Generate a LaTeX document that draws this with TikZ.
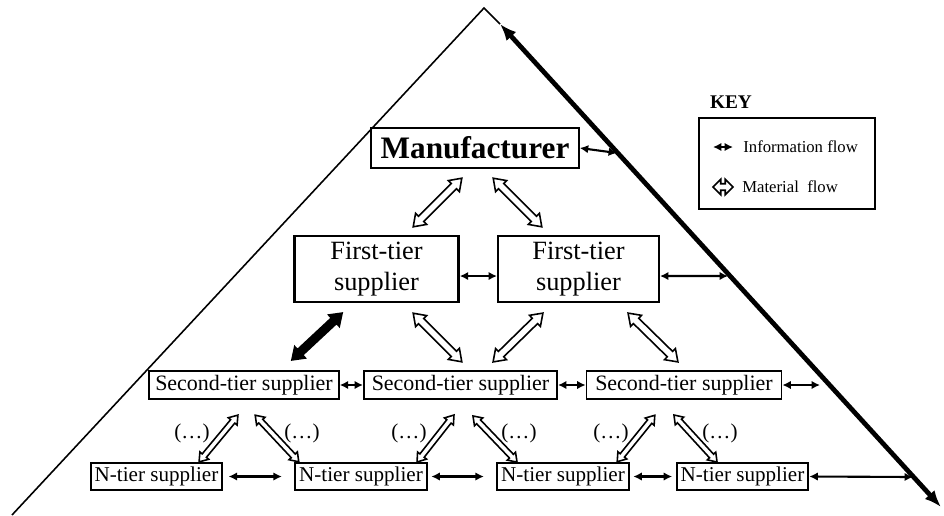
\documentclass[tikz,border=0pt]{standalone}
\usepackage{fontspec}
\setmainfont{Liberation Serif}
\usetikzlibrary{arrows.meta,shapes.arrows}
\begin{document}
\begin{tikzpicture}[x=0.02cm,y=-0.02cm]
		\tikzstyle{every node}+=[inner sep=0pt]
		\tikzstyle{tier}=[draw, line width=1.3pt, align=center]
		\tikzstyle{info}=[{Latex[length=4.8pt,width=4.8pt]}-{Latex[length=4.8pt,width=4.8pt]}, line width=1.2pt]
		\tikzstyle{mat}=[draw, shape=double arrow, line width=0.9pt, double arrow tip angle=70, inner sep=1.7pt, double arrow head extend=2.3pt, minimum width=0pt]
		\tikzstyle{matsmall}=[mat, inner sep=1.1pt, double arrow head extend=1.7pt]
		\tikzstyle{dots}=[font=\fontsize{12}{14}\selectfont]
		\useasboundingbox (0,0) rectangle (944,515);
		% pyramid
		\coordinate (apex) at (484,8);
		\coordinate (base) at (12,515);
		\coordinate (top) at (500,24);
		\coordinate (bot) at (941,507);
		\draw [black, line width=0.9pt] (base) -- (apex) -- (top);
		\draw [black, line width=2.7pt, {Latex[length=9.5pt,width=7.5pt]}-{Latex[length=9.5pt,width=7.5pt]}] (top) -- (bot);
		\coordinate (r1) at (617,153);
		\coordinate (r2) at (728,276);
		\coordinate (r3) at (820,385);
		\coordinate (r4) at (913,477);
		% tiers
		\node [tier, minimum width=118pt, minimum height=22.7pt, font=\fontsize{17.8}{20}\selectfont\bfseries] (man) at (475,148) {Manufacturer};
		\node [tier, minimum width=93.5pt, minimum height=37.4pt, font=\fontsize{15}{18}\selectfont] (f1) at (376.5,269) {First-tier\\supplier};
		\node [tier, minimum width=91.5pt, minimum height=37.4pt, font=\fontsize{15}{18}\selectfont] (f2) at (578.5,269) {First-tier\\supplier};
		\node [tier, line width=1pt, minimum width=108pt, minimum height=15.9pt, font=\fontsize{12.5}{14}\selectfont] (s1) at (244,385) {Second-tier supplier};
		\node [tier, line width=1pt, minimum width=110pt, minimum height=15.9pt, font=\fontsize{12.5}{14}\selectfont] (s2) at (460.5,385) {Second-tier supplier};
		\node [tier, line width=1pt, minimum width=111pt, minimum height=15.9pt, font=\fontsize{12.5}{14}\selectfont] (s3) at (684,385) {Second-tier supplier};
		\node [tier, minimum width=74.8pt, minimum height=15.3pt, font=\fontsize{12}{14}\selectfont] (n1) at (156.5,476.5) {N-tier supplier};
		\node [tier, minimum width=74.8pt, minimum height=15.3pt, font=\fontsize{12}{14}\selectfont] (n2) at (361,476.5) {N-tier supplier};
		\node [tier, minimum width=74.8pt, minimum height=15.3pt, font=\fontsize{12}{14}\selectfont] (n3) at (563,476.5) {N-tier supplier};
		\node [tier, minimum width=74.8pt, minimum height=15.3pt, font=\fontsize{12}{14}\selectfont] (n4) at (742.5,476.5) {N-tier supplier};
		% information flow
		\draw [info] (man.east) -- (r1);
		\draw [info] ([yshift=-4pt]f1.east) -- ([yshift=-4pt]f2.west);
		\draw [info] ([yshift=-4pt]f2.east) -- (r2);
		\draw [info] (s1.east) -- (s2.west);
		\draw [info] (s2.east) -- (s3.west);
		\draw [info] (s3.east) -- (r3);
		\draw [info, shorten <=3pt, shorten >=7pt] (n1.east) -- (n2.west);
		\draw [info, shorten <=2pt, shorten >=7pt] (n2.east) -- (n3.west);
		\draw [info, shorten <=2pt, shorten >=2pt] (n3.east) -- (n4.west);
		\draw [info] (n4.east) -- (r4);
		% material flow
		\node [mat, rotate=45, minimum height=39.1pt] (ma1) at (437.5,202.5) {};
		\node [mat, rotate=-45, minimum height=39.1pt] (ma2) at (517.5,202.5) {};
		\node [mat, fill=black, rotate=43, minimum height=39.1pt] (fa1) at (317,336.5) {};
		\node [mat, rotate=-45, minimum height=39.1pt] (fa2) at (437.5,337.5) {};
		\node [mat, rotate=44.4, minimum height=39.7pt] (fa3) at (518,337.5) {};
		\node [mat, rotate=-44.4, minimum height=39.7pt] (fa4) at (653,337.5) {};
		\node [matsmall, rotate=50.3, minimum height=34.6pt] (sa1) at (218.5,438.5) {};
		\node [matsmall, rotate=-46.9, minimum height=36.3pt] (sa2) at (277,438.5) {};
		\node [matsmall, rotate=51.8, minimum height=34pt] (sa3) at (435.5,438.5) {};
		\node [matsmall, rotate=-46.3, minimum height=36.3pt] (sa4) at (495,439) {};
		\node [matsmall, rotate=51, minimum height=34pt] (sa5) at (636,438.5) {};
		\node [matsmall, rotate=-47.5, minimum height=36.3pt] (sa6) at (695.5,438.5) {};
		\node [dots] (d1) at (192,433) {(\ldots)};
		\node [dots] (d2) at (302,433) {(\ldots)};
		\node [dots] (d3) at (409,433) {(\ldots)};
		\node [dots] (d4) at (519,433) {(\ldots)};
		\node [dots] (d5) at (611,433) {(\ldots)};
		\node [dots] (d6) at (720,433) {(\ldots)};
		% key
		\node [font=\fontsize{11}{13}\selectfont\bfseries] (keytitle) at (731,102) {KEY};
		\node [draw, line width=1pt, minimum width=99.8pt, minimum height=51.6pt] (key) at (787,163.5) {};
		\coordinate (k1) at (713,147);
		\coordinate (k2) at (733,147);
		\draw [info] (k1) -- (k2);
		\node [anchor=west, font=\fontsize{9.5}{11}\selectfont] (infotext) at (743,147) {Information flow};
		\node [mat, minimum height=11.3pt, double arrow tip angle=90, inner sep=1.4pt, double arrow head extend=2.5pt] (matkey) at (723,187) {};
		\node [anchor=west, font=\fontsize{9.5}{11}\selectfont] (mattext) at (742,187) {Material\ \ flow};
\end{tikzpicture}
\end{document}
